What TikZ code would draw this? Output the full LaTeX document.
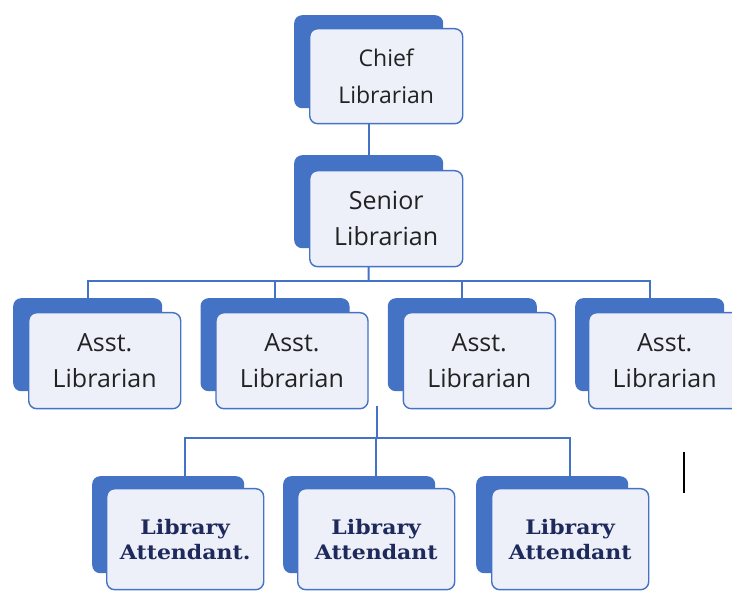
\documentclass[tikz,border=0pt]{standalone}
\usepackage{fontspec}
\newfontfamily\sansf{Open Sans}
\newfontfamily\slabf[FakeStretch=1.1]{DejaVu Serif}
\usetikzlibrary{backgrounds}
\definecolor{bblue}{HTML}{4472C4}
\definecolor{lightfill}{HTML}{EDF0F9}
\definecolor{txt}{HTML}{222222}
\definecolor{navy}{HTML}{1F2A5C}
\tikzset{
  backbox/.style={draw=none, fill=bblue, rounded corners=8pt, minimum width=149pt, minimum height=93pt, inner sep=0pt, anchor=north west},
  frontbox/.style={draw=bblue, line width=1.4pt, fill=lightfill, rounded corners=8pt, minimum width=152pt, minimum height=96pt, inner sep=0pt, anchor=north west, align=center, text=txt},
  bigtxt/.style={font=\sansf\fontsize{25}{36}\selectfont},
  chieftxt/.style={font=\sansf\fontsize{23}{37}\selectfont},
  latxt/.style={font=\slabf\bfseries\fontsize{20}{25}\selectfont, text=navy, minimum width=157pt, minimum height=101pt},
  laback/.style={backbox, minimum width=152pt, minimum height=97pt},
  conn/.style={draw=bblue, line width=2pt},
}
\begin{document}
\begin{tikzpicture}[x=1pt,y=-1pt]
\useasboundingbox (0,0) rectangle (732,593);
\clip (0,0) rectangle (732,593);
% Chief
\node[backbox] (cb) at (294,15) {};
\node[frontbox, chieftxt, minimum width=153pt, minimum height=95pt] (cf) at (309,28) {Chief\\Librarian};
% Senior
\node[backbox] (sb) at (294,155) {};
\node[frontbox, bigtxt, minimum width=153pt] (sf) at (309,170) {Senior\\Librarian};
% Asst
\node[backbox] (a1b) at (13,298) {};
\node[frontbox, bigtxt] (a1f) at (28,312) {Asst.\\Librarian};
\node[backbox] (a2b) at (200.3,298) {};
\node[frontbox, bigtxt] (a2f) at (215.3,312) {Asst.\\Librarian};
\node[backbox] (a3b) at (387.6,298) {};
\node[frontbox, bigtxt] (a3f) at (402.6,312) {Asst.\\Librarian};
\node[backbox] (a4b) at (575,298) {};
\node[frontbox, bigtxt] (a4f) at (588,312) {Asst.\\Librarian};
% Library attendants
\node[laback] (l1b) at (92,476) {};
\node[frontbox, latxt] (l1f) at (106,488) {Library\\Attendant.};
\node[laback] (l2b) at (283,476) {};
\node[frontbox, latxt] (l2f) at (297,488) {Library\\Attendant};
\node[laback] (l3b) at (476,476) {};
\node[frontbox, latxt] (l3f) at (491,488) {Library\\Attendant};
% cursor
\coordinate (cur1) at (684,452);
\coordinate (cur2) at (684,493);
\draw[line width=1.8pt, black] (cur1) -- (cur2);
% connectors
\coordinate (abus) at (368.5,281);
\coordinate (ltop) at (377,406);
\coordinate (lbus) at (377,438);
\begin{pgfonlayer}{background}
\draw[conn] (cb.south) -- (sb.north);
\draw[conn] (sb.south) -- (abus);
\draw[conn] (abus) -| (a1b.north);
\draw[conn] (abus) -| (a2b.north);
\draw[conn] (abus) -| (a3b.north);
\draw[conn] (abus) -| (a4b.north);
\draw[conn] (ltop) -- (lbus);
\draw[conn] (lbus) -| (l1f.north |- l1b.north);
\draw[conn] (lbus) -| (l2f.north |- l2b.north);
\draw[conn] (lbus) -| (l3f.north |- l3b.north);
\end{pgfonlayer}
\end{tikzpicture}
\end{document}
